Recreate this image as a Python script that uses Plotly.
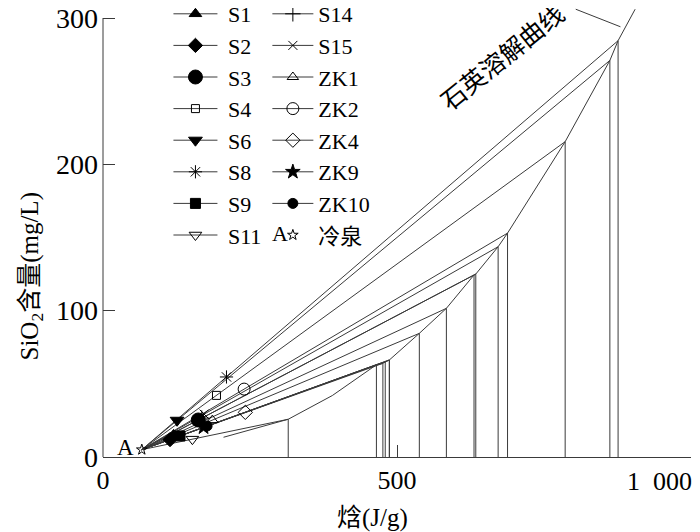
import plotly.graph_objects as go

# ---------------- data ----------------
names = ["S1", "S2", "S3", "S4", "S6", "S8", "S9", "S11",
         "S14", "S15", "ZK1", "ZK2", "ZK4", "ZK9", "ZK10"]
symbols = ["triangle-up", "diamond", "circle", "square-open", "triangle-down",
           "asterisk-open", "square", "triangle-down-open",
           "cross-thin-open", "x-thin-open", "triangle-up-open", "circle-open",
           "diamond-open", "star", "circle-x"]
msizes = [11, 11, 14, 8, 12, 11, 10, 11, 11, 9, 10, 12, 11, 11, 10]
# sample enthalpy (J/g) and SiO2 (mg/L)
sample_h = [120, 114, 162, 193, 126, 210, 131, 152, 168, 172, 186, 240, 242, 171, 177]
sample_si = [15.1, 11.9, 25.3, 42.1, 25.1, 54.7, 14.4, 12.2, 26.6, 29.3, 25.2, 46.4, 30.5, 20.3, 21.2]
# mixing-line intersection with the quartz solubility curve
mix_h = [584, 465, 631, 786, 862, 876, 476, 315, 634, 672, 538, 688, 480, 487, 487]
mix_si = [101.6, 63, 124.4, 215.5, 271, 284.5, 64, 25.8, 125, 143.7, 84.5, 153, 65, 66.3, 66.3]
# cold spring A
cold_h, cold_si = 66, 5
# quartz solubility curve
quartz_h = [205, 315, 390, 465, 476, 480, 487, 538, 584, 631, 634, 672, 688, 786, 862, 876, 905]
quartz_si = [13.5, 25.8, 42, 63, 64, 65, 66.3, 84.5, 101.6, 124.4, 125, 143.7, 153, 215.5, 271, 284.5, 306]
# label leader line
leader_h = [804, 880]
leader_si = [306, 294]

x_ticks = [0, 500]
y_ticks = [0, 100, 200, 300]

SERIF = "Liberation Serif, Times New Roman, Noto Sans CJK SC, serif"
LC = "#3a3a3a"

fig = go.Figure()

# mixing lines and verticals
lx, ly = [], []
for sh, ss, mh, ms in zip(sample_h, sample_si, mix_h, mix_si):
    lx += [cold_h, sh, mh, None, mh, mh, None]
    ly += [cold_si, ss, ms, None, ms, 0, None]
fig.add_trace(go.Scatter(x=lx, y=ly, mode="lines", line=dict(color=LC, width=1),
                         showlegend=False, hoverinfo="skip"))
fig.add_trace(go.Scatter(x=quartz_h, y=quartz_si, mode="lines",
                         line=dict(color=LC, width=1), showlegend=False))
fig.add_trace(go.Scatter(x=leader_h, y=leader_si, mode="lines",
                         line=dict(color=LC, width=1), showlegend=False))

# sample markers (also legend entries)
for i, n in enumerate(names):
    first = i < 8
    fig.add_trace(go.Scatter(
        x=[sample_h[i]], y=[sample_si[i]], name=(" " + n) if first else n,
        mode="lines+markers",
        line=dict(color=LC, width=1),
        marker=dict(symbol=symbols[i], size=msizes[i], color="black",
                    line=dict(color="black", width=1)),
        legend="legend" if first else "legend2"))

# cold spring
fig.add_trace(go.Scatter(x=[cold_h], y=[cold_si], name="冷泉", mode="markers",
                         marker=dict(symbol="star-open", size=8, color="black",
                                     line=dict(color="black", width=1)),
                         legend="legend2"))

W, H = 692, 540
L, R, T, B = 94.5, 9, 0, 91
PW, PH = W - L - R, H - T - B
YTOP = PH / (439.0 / 300)

fig.update_layout(
    width=W, height=H, margin=dict(l=L, r=R, t=T, b=B, autoexpand=False),
    plot_bgcolor="white", paper_bgcolor="white",
    font=dict(family=SERIF, size=24, color="black"),
    showlegend=True,
    legend=dict(x=(160 - L) / PW, y=1 + 15 / PH, xanchor="left", yanchor="top",
                bgcolor="rgba(0,0,0,0)", font=dict(size=22, family=SERIF),
                itemwidth=44, tracegroupgap=0),
    legend2=dict(x=(259 - L) / PW, y=1 + 15 / PH, xanchor="left", yanchor="top",
                 bgcolor="rgba(0,0,0,0)", font=dict(size=22, family=SERIF),
                 itemwidth=41, tracegroupgap=0),
    xaxis=dict(range=[0, 1000], showline=True, linecolor=LC, linewidth=1,
               showgrid=False, zeroline=False, ticks="inside", ticklen=12,
               tickcolor=LC, tickvals=x_ticks + [1000], ticktext=["0", "500", ""],
               tickfont=dict(size=26)),
    yaxis=dict(range=[0, YTOP], showline=False, showgrid=False, zeroline=False,
               ticks="inside", ticklen=12, tickcolor=LC, tickvals=y_ticks,
               tickfont=dict(size=28), ticklabeloverflow="allow",
               ticklabelstandoff=4),
    shapes=[dict(type="line", xref="paper", x0=0, x1=0, yref="y", y0=0, y1=300,
                 line=dict(color=LC, width=1))],
    annotations=[
        dict(text="1\u2002000", xref="paper", yref="paper", x=1.0, y=0, xanchor="right",
             yanchor="middle", yshift=-24, xshift=3, showarrow=False,
             font=dict(size=26)),
        dict(text="焓(J/g)", xref="paper", yref="paper", x=(364 - L) / PW, y=0,
             yshift=-61, xanchor="center", yanchor="middle", showarrow=False,
             font=dict(size=25)),
        dict(text="SiO<sub>2</sub>含量(mg/L)", xref="paper", yref="paper",
             x=0, xshift=-72.5, y=(449 - 269) / PH, xanchor="center", yanchor="middle",
             textangle=-90, showarrow=False, font=dict(size=25)),
        dict(text="A", x=cold_h, y=cold_si, xshift=-16, yshift=2, showarrow=False,
             font=dict(size=23)),
        dict(text="A", xref="paper", yref="paper", x=(272 - L) / PW,
             y=(449 - 225) / PH, xanchor="center", yanchor="middle",
             showarrow=False, font=dict(size=22)),
        dict(text="石英溶解曲线", x=681, y=272.7, textangle=-39, showarrow=False,
             font=dict(size=25)),
    ],
)

fig.write_html("out.html")
